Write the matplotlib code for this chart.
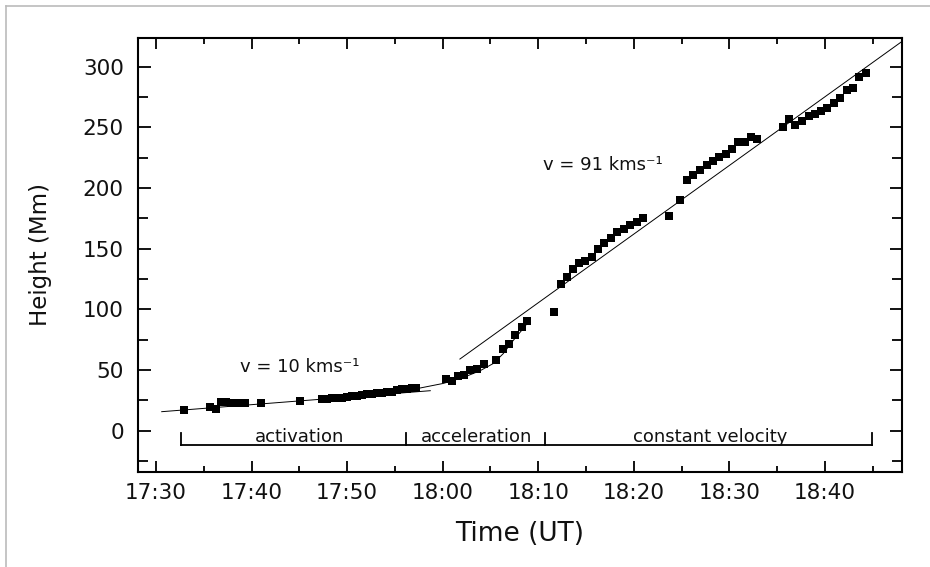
import matplotlib.pyplot as plt
from matplotlib.lines import Line2D
from matplotlib.ticker import MultipleLocator, FixedLocator

# time in minutes after 17:30 UT, height in Mm
t_min = [2.96, 5.65, 6.28, 6.80, 7.32, 7.85, 8.37, 8.89, 9.31, 10.99, 15.07,
         17.37, 17.89, 18.42, 18.94, 19.46, 19.99, 20.51, 21.03, 21.56, 22.08,
         22.60, 23.12, 23.65, 24.17, 24.69, 25.22, 25.74, 26.26, 26.79, 27.21,
         30.3, 31.0, 31.6, 32.2, 32.9, 33.6, 34.3, 35.6, 36.3, 36.9, 37.6, 38.3,
         38.8, 41.6,
         42.35, 42.97, 43.60, 44.29, 44.92, 45.62, 46.28, 46.91, 47.61, 48.27,
         48.94, 49.60, 50.30, 50.99, 53.71, 54.86, 55.56, 56.22, 56.95, 57.62,
         58.25, 58.88, 59.61, 60.27, 60.90, 61.63, 62.26, 62.89, 65.57, 66.20,
         66.89, 67.59, 68.30, 68.92, 69.58, 70.21, 70.91, 71.60, 72.27, 72.90,
         73.59, 74.26]
height = [17.3, 19.3, 18.1, 23.8, 23.3, 23.1, 23.1, 23.0, 23.0, 23.1, 24.5,
          26.4, 26.5, 26.7, 27.0, 27.3, 28.0, 28.3, 28.8, 29.5, 30.0,
          30.3, 31.0, 31.3, 31.6, 32.0, 33.5, 34.1, 34.5, 35.0, 35.3,
          42.4, 41.2, 45.1, 45.9, 50.0, 50.9, 55.2, 58.3, 67.1, 71.5, 79.1, 85.2,
          90.4, 97.6,
          120.9, 126.4, 133.0, 137.9, 140.0, 143.4, 149.7, 154.9, 159.0, 163.5,
          166.2, 169.5, 172.2, 175.0, 177.2, 190.1, 206.6, 210.6, 215.3, 218.9,
          222.4, 225.3, 227.8, 231.9, 238.2, 238.2, 241.8, 240.4, 250.6, 257.0,
          251.7, 255.0, 259.4, 261.3, 263.5, 265.7, 269.8, 274.5, 280.8, 282.2,
          291.8, 294.6]

# fitted lines
fit10_t = [0.6, 28.7]
fit10_h = [15.7, 33.0]
fit91_t = [31.8, 78.0]
fit91_h = [59.1, 320.6]
accel_t = [23.44, 26.92, 30.06, 32.15, 33.90, 35.29, 36.34, 37.39, 38.43, 38.96]
accel_h = [31.3, 34.1, 39.0, 43.9, 49.4, 55.4, 63.6, 74.5, 84.3, 89.7]

# phases
phase_edges = [2.6, 26.2, 40.7, 74.95]
phase_names = ['activation', 'acceleration', 'constant velocity']
phase_text_x = [15.0, 33.5, 58.0]

tick_pos = [0, 10, 20, 30, 40, 50, 60, 70]
tick_labels = ['17:30', '17:40', '17:50', '18:00', '18:10', '18:20', '18:30', '18:40']

fig = plt.figure(figsize=(9.3, 5.67), dpi=100)
ax = fig.add_axes([0.148, 0.1676, 0.8216, 0.7659])

ax.plot(fit10_t, fit10_h, color='black', lw=0.7)
ax.plot(fit91_t, fit91_h, color='black', lw=0.7)
ax.plot(accel_t, accel_h, color='black', lw=0.7)
ax.plot(t_min, height, 's', color='black', ms=5.2, mew=0)

# phase bar
bar_y = -12
ax.plot([phase_edges[0], phase_edges[-1]], [bar_y, bar_y], color='black', lw=1.3)
for e in phase_edges:
    ax.plot([e, e], [bar_y, -1.6], color='black', lw=1.3)
for name, xt in zip(phase_names, phase_text_x):
    ax.text(xt, -9.3, name, ha='center', va='baseline', fontsize=13, color='#111111')

ax.text(8.8, 48.1, 'v = 10 kms⁻¹', fontsize=13, va='baseline', color='#111111')
ax.text(40.5, 214.9, 'v = 91 kms⁻¹', fontsize=13, va='baseline', color='#111111')

ax.set_xlim(-1.92, 78.03)
ax.set_ylim(-34, 324)
ax.xaxis.set_major_locator(FixedLocator(tick_pos))
ax.set_xticklabels(tick_labels)
ax.xaxis.set_minor_locator(MultipleLocator(5))
ax.yaxis.set_major_locator(MultipleLocator(50))
ax.yaxis.set_minor_locator(MultipleLocator(25))
ax.set_yticks([0, 50, 100, 150, 200, 250, 300])

ax.tick_params(which='both', direction='in', top=True, right=True, width=1.3,
               labelsize=15.5, colors='black', labelcolor='#111111')
ax.tick_params(axis='x', which='major', length=8, pad=8)
ax.tick_params(axis='x', which='minor', length=4)
ax.tick_params(axis='y', which='major', length=9, pad=10)
ax.tick_params(axis='y', which='minor', length=7)
for s in ax.spines.values():
    s.set_linewidth(1.5)

ax.set_xlabel('Time (UT)', fontsize=19, color='#111111', labelpad=13)
ax.set_ylabel('Height (Mm)', fontsize=16.5, color='#111111', labelpad=22)

# light frame at top and left edges of the image
fig.add_artist(Line2D([6 / 930, 6 / 930], [0, 1 - 6 / 567], transform=fig.transFigure,
                      color='#bbbbbb', lw=1.2))
fig.add_artist(Line2D([6 / 930, 1], [1 - 6 / 567, 1 - 6 / 567], transform=fig.transFigure,
                      color='#bbbbbb', lw=1.2))

fig.savefig('out.png', dpi=100)
